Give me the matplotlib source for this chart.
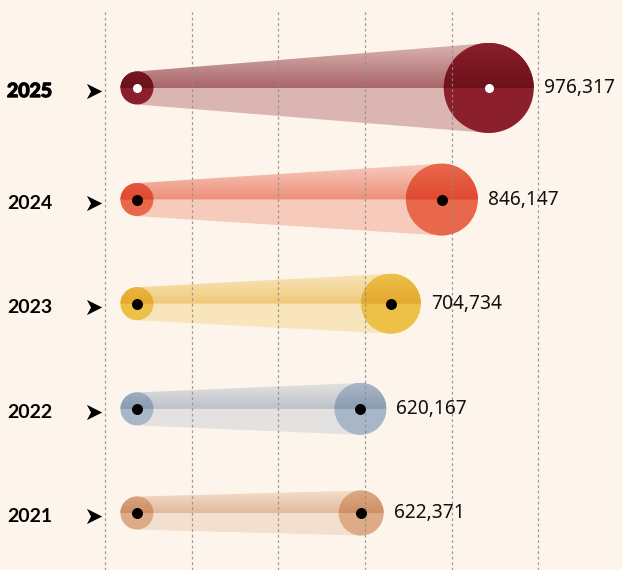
import numpy as np
import matplotlib.pyplot as plt
import matplotlib.patheffects as pe
from matplotlib.patches import Ellipse, Polygon
from matplotlib.path import Path
from matplotlib.colors import to_rgb

# data, bottom row first
years = ['2021', '2022', '2023', '2024', '2025']
start_values = [0, 0, 0, 0, 0]
end_values = [622371, 620167, 704734, 846147, 976317]

# styles
colors = ['#ddab85', '#a8b6c7', '#edc048', '#e9684b', '#8b1f2c']
bubble_px = [22.5, 26, 30, 36, 45]
row_pos = [0, 0.98, 1.97, 2.95, 4.0]
start_px = 16.5
bg = '#fdf5ec'
grid_start, grid_step = -88500, 240500

W, H = 622, 570
fig = plt.figure(figsize=(W / 100, H / 100), dpi=100)
fig.patch.set_facecolor(bg)
ax = fig.add_axes([0, 0, 1, 1])
xlim = (-380000, 1346000)
ylim = (-0.536, 4.828)
sx = W / (xlim[1] - xlim[0])   # pixels per value unit
sy = H / (ylim[1] - ylim[0])   # pixels per row


def half_ellipse(cx, cy, r, n=60):
    t = np.linspace(0, np.pi, n)
    return np.column_stack([cx + r * np.cos(t) / sx, cy + r * np.sin(t) / sy])


def shade_top(verts, base, main, x0, x1, y, h, z):
    # multiply-style darkening that gets stronger toward the centre line
    s = np.linspace(0.5, 0.0, 80)[:, None]
    col = np.array(base) * (1 - s + s * np.array(main))
    img = np.repeat(col[:, None, :], 2, axis=1)
    im = ax.imshow(img, extent=(x0, x1, y, y + h), origin='lower',
                   aspect='auto', interpolation='bilinear', zorder=z)
    im.set_clip_path(Polygon(verts, closed=True, transform=ax.transData))


arrow = Path([(-1, -1), (1, 0), (-1, 1), (-0.45, 0), (-1, -1)],
             [Path.MOVETO, Path.LINETO, Path.LINETO, Path.LINETO, Path.CLOSEPOLY])

for yr, y, v0, v1, c, rb in zip(years, row_pos, start_values, end_values,
                                colors, bubble_px):
    rs = start_px
    main = np.array(to_rgb(c))
    band = main * 0.3 + np.array(to_rgb(bg)) * 0.7
    hb = rb / sy
    x_lo, x_hi = v0 - rs / sx, v1 + rb / sx

    # band, lower half flat, upper half shaded
    ax.add_patch(Polygon([(v0, y), (v1, y), (v1, y - hb), (v0, y - rs / sy)],
                         closed=True, facecolor=band, lw=0, zorder=1))
    shade_top([(v0, y), (v0, y + rs / sy), (v1, y + hb), (v1, y)],
              band, main, x_lo, x_hi, y, hb, 1.5)

    # circles
    for v, r in ((v0, rs), (v1, rb)):
        ax.add_patch(Ellipse((v, y), 2 * r / sx, 2 * r / sy,
                             facecolor=main, lw=0, zorder=2))
        shade_top(half_ellipse(v, y, r), main, main, x_lo, x_hi, y, hb, 2.5)

    dot = 'white' if yr == '2025' else 'black'
    ms = 6.5 if yr == '2025' else 7.9
    ax.plot([v0, v1], [y, y], ls='none', marker='o', ms=ms,
            mfc=dot, mec='none', zorder=5)

    ax.annotate(f'{v1:,}', (v1, y), xytext=((rb + 10) * 0.72, 0),
                textcoords='offset points', ha='left', va='center',
                fontsize=13.8, family=['Noto Sans', 'DejaVu Sans'],
                color='#111111', zorder=6)

    t = ax.text(7 / W, y - 3.5 / sy, yr, transform=ax.get_yaxis_transform(),
                ha='left', va='center', fontsize=14,
                family=['Lato', 'DejaVu Sans'], fontweight='bold',
                color='black')
    if yr == '2025':
        t.set_path_effects([pe.Stroke(linewidth=1.0, foreground='black',
                                      joinstyle='round'), pe.Normal()])
    ax.plot([94 / W], [y - 3 / sy], transform=ax.get_yaxis_transform(),
            marker=arrow, ms=11, color='black', mec='none', ls='none')

# dashed guides
grid_x = grid_start + grid_step * np.arange(6)
ax.vlines(grid_x, ylim[0], ylim[1] - 9 / sy, colors='#8c8c8c',
          linestyles=(0, (2.2, 2.2)), lw=0.9, alpha=0.85, zorder=4)

ax.set_xlim(*xlim)
ax.set_ylim(*ylim)
ax.axis('off')
fig.savefig('out.png', dpi=100, facecolor=bg)
